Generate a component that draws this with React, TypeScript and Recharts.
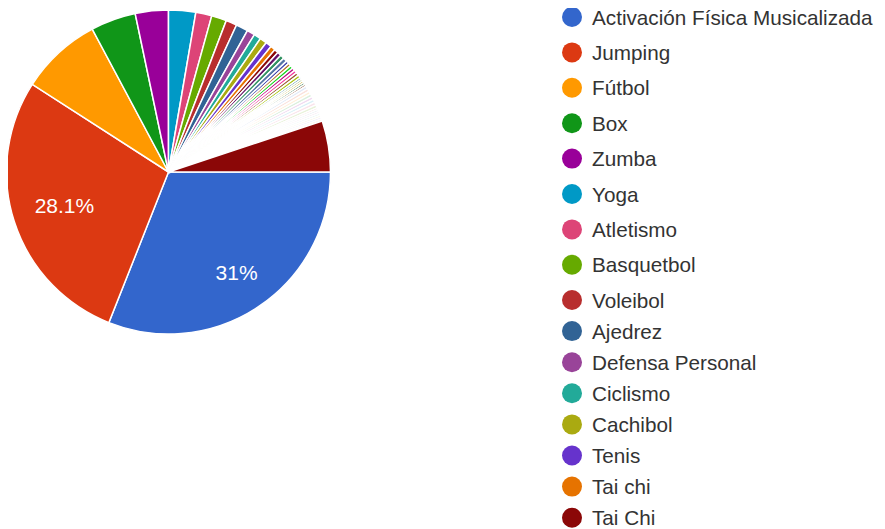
import React from "react";
import { Cell, Legend, Pie, PieChart } from "recharts";

// categories shown in the legend (the rest of the answers are hidden there)
const names = [
  "Activación Física Musicalizada",
  "Jumping",
  "Fútbol",
  "Box",
  "Zumba",
  "Yoga",
  "Atletismo",
  "Basquetbol",
  "Voleibol",
  "Ajedrez",
  "Defensa Personal",
  "Ciclismo",
  "Cachibol",
  "Tenis",
  "Tai chi",
  "Tai Chi",
];
const counts = [310, 281, 81, 45, 33, 27, 16, 15, 11, 12, 8, 7, 7, 6, 5, 4];
// small answers after the legend's last entry, then the final dark red one
const extraCounts = [4, 4, 4, 3, 3, 3, 3, 3, 3, 3, 2, 2, 2, 2, 2];
const tinyCounts = [3, 3, 3, 3, 3, 3, 3, 3, 2, 2, 2, 2, 2, 2, 2];
const lastCount = 51;

const palette = [
  "#3366cc", "#dc3912", "#ff9900", "#109618", "#990099", "#0099c6",
  "#dd4477", "#66aa00", "#b82e2e", "#316395", "#994499", "#22aa99",
  "#aaaa11", "#6633cc", "#e67300", "#8b0707", "#651067", "#329262",
  "#5574a6", "#3b3eac", "#b77322", "#16d620", "#b91383", "#f4359e",
  "#9c5935", "#a9c413", "#2a778d", "#668d1c", "#bea413", "#0c5922",
  "#743411",
];

const data = [
  ...names.map((name, i) => ({ name, value: counts[i], tiny: false })),
  ...extraCounts.map((value, i) => ({ name: `Otra respuesta ${i + 1}`, value, tiny: false })),
  ...tinyCounts.map((value, i) => ({ name: `Otra respuesta ${i + 16}`, value, tiny: true })),
  { name: "Otra respuesta 31", value: lastCount, tiny: false },
];

const FONT = "Arial, 'Liberation Sans', sans-serif";
const RADIAN = Math.PI / 180;
const LABEL_SIZE = 21;

const fmtPct = (p: number) => {
  const s = (p * 100).toFixed(1);
  return (s.endsWith(".0") ? s.slice(0, -2) : s) + "%";
};

// rough Arial advance widths
const textWidth = (s: string) =>
  s.split("").reduce((w, ch) => w + (ch === "." ? 0.278 : ch === "%" ? 0.889 : 0.556), 0) * LABEL_SIZE;

const renderLabel = (props: any) => {
  const { cx, cy, midAngle, outerRadius, percent } = props;
  if (percent < 0.1) return null;
  const txt = fmtPct(percent);
  const c = Math.cos(-midAngle * RADIAN);
  const s = Math.sin(-midAngle * RADIAN);
  const a = Math.sign(c) * textWidth(txt) / 2;
  const b = Math.sign(s) * 8;
  const R = outerRadius * 0.865;
  const k = c * a + s * b;
  const t = -k + Math.sqrt(k * k - (a * a + b * b - R * R));
  return (
    <text
      x={cx + t * c}
      y={cy + t * s}
      fill="#ffffff"
      fontSize={LABEL_SIZE}
      fontFamily={FONT}
      textAnchor="middle"
      dominantBaseline="central"
    >
      {txt}
    </text>
  );
};

const rowY = (i: number) => (i < 8 ? 9 + i * 35.4 : 292 + (i - 8) * 31.1);

const LegendList = () => (
  <svg width={324} height={521} style={{ display: "block" }}>
    {names.map((name, i) => (
      <g key={name}>
        <circle cx={11} cy={rowY(i)} r={10} fill={palette[i]} />
        <text
          x={31}
          y={rowY(i)}
          fontSize={20.7}
          fontFamily={FONT}
          fill="#333333"
          dominantBaseline="central"
        >
          {name}
        </text>
      </g>
    ))}
  </svg>
);

const App = () => {
  return (
    <PieChart width={877} height={521} margin={{ top: 0, right: 0, bottom: 0, left: 0 }}>
      <Pie
        data={data}
        dataKey="value"
        nameKey="name"
        cx={160.5}
        cy={164}
        outerRadius={162}
        startAngle={0}
        endAngle={-360}
        stroke="#ffffff"
        strokeWidth={1.5}
        label={renderLabel}
        labelLine={false}
        isAnimationActive={false}
      >
        {data.map((d, i) => (
          <Cell key={i} fill={palette[i % palette.length]} fillOpacity={d.tiny ? 0.15 : 1} />
        ))}
      </Pie>
      <Legend
        content={() => <LegendList />}
        wrapperStyle={{ position: "absolute", left: 553, top: 0, width: 324, height: 521 }}
      />
    </PieChart>
  );
};

export default App;
